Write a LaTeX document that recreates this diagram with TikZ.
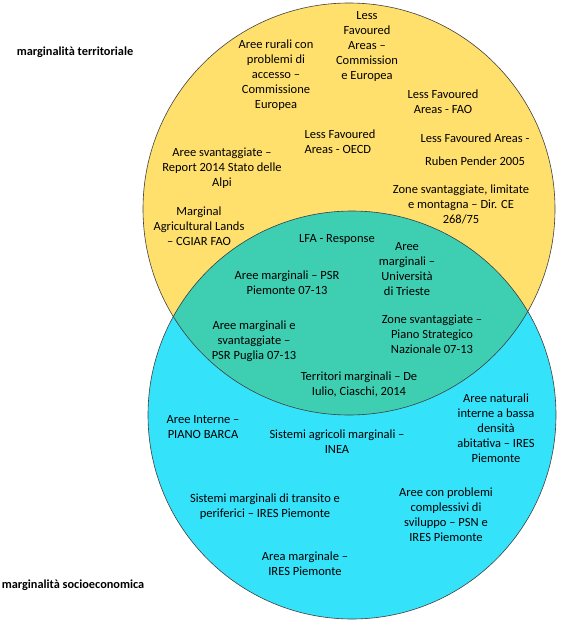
\documentclass[tikz,border=0pt]{standalone}
\usepackage{fontspec}
\setmainfont{Carlito}
\usetikzlibrary{calc}

\definecolor{giallo}{RGB}{255,224,108}
\definecolor{ciano}{RGB}{52,226,250}
\definecolor{lente}{RGB}{62,206,178}

\tikzset{
  lbl/.style={align=center,inner sep=0pt,font=\fontsize{12.5}{15}\selectfont},
  titolo/.style={inner sep=0pt,font=\bfseries\fontsize{12.3}{15}\selectfont},
  cerchio/.style={draw=black!75,line width=0.6pt}
}

\begin{document}
\begin{tikzpicture}[x=1pt,y=-1pt]
  \useasboundingbox (0,0) rectangle (588,626);
  % circles
  \coordinate (C1) at (349,209);
  \coordinate (C2) at (352,415);
  \fill[giallo] (C1) circle (206);
  \fill[ciano] (C2) circle (204);
  \begin{scope}
    \clip (C1) circle (206);
    \fill[lente] (C2) circle (204);
  \end{scope}
  \draw[cerchio] (C1) circle (206);
  \draw[cerchio] (C2) circle (204);
  % titles
  \node[titolo] (M1) at (75,52) {marginalità territoriale};
  \node[titolo] (M2) at (73,585) {marginalità socioeconomica};
  % upper circle
  \node[lbl] (T1) at (276,75) {Aree rurali con\\problemi di\\accesso --\\Commissione\\Europea};
  \node[lbl] (T2) at (367,46) {Less\\Favoured\\Areas --\\Commission\\e Europea};
  \node[lbl] (T3) at (443,102) {Less Favoured\\Areas - FAO};
  \node[lbl,align=left] (T4) at (340,142) {Less Favoured\\Areas - OECD};
  \node[lbl] (T5) at (475,150) {Less Favoured Areas -\\[8pt]Ruben Pender 2005};
  \node[lbl] (T6) at (461,204) {Zone svantaggiate, limitate\\e montagna -- Dir. CE\\268/75};
  \node[lbl] (T7) at (222,168) {Aree svantaggiate --\\Report 2014 Stato delle\\Alpi};
  \node[lbl] (T8) at (199,226) {Marginal\\Agricultural Lands\\-- CGIAR FAO};
  % intersection
  \node[lbl] (T9) at (337,239) {LFA - Response};
  \node[lbl] (T10) at (407,269) {Aree\\marginali --\\Università\\di Trieste};
  \node[lbl] (T11) at (287,283) {Aree marginali -- PSR\\Piemonte 07-13};
  \node[lbl] (T12) at (254,341) {Aree marginali e\\svantaggiate --\\PSR Puglia 07-13};
  \node[lbl] (T13) at (432,334) {Zone svantaggiate --\\Piano Strategico\\Nazionale 07-13};
  \node[lbl] (T14) at (359,384) {Territori marginali -- De\\Iulio, Ciaschi, 2014};
  % lower circle
  \node[lbl] (T15) at (203,427) {Aree Interne --\\PIANO BARCA};
  \node[lbl] (T16) at (337,442) {Sistemi agricoli marginali --\\INEA};
  \node[lbl] (T17) at (496,428) {Aree naturali\\interne a bassa\\densità\\abitativa -- IRES\\Piemonte};
  \node[lbl] (T18) at (265,507) {Sistemi marginali di transito e\\periferici -- IRES Piemonte};
  \node[lbl] (T19) at (446,515) {Aree con problemi\\complessivi di\\sviluppo -- PSN e\\IRES Piemonte};
  \node[lbl] (T20) at (305,564) {Area marginale --\\IRES Piemonte};
\end{tikzpicture}
\end{document}
